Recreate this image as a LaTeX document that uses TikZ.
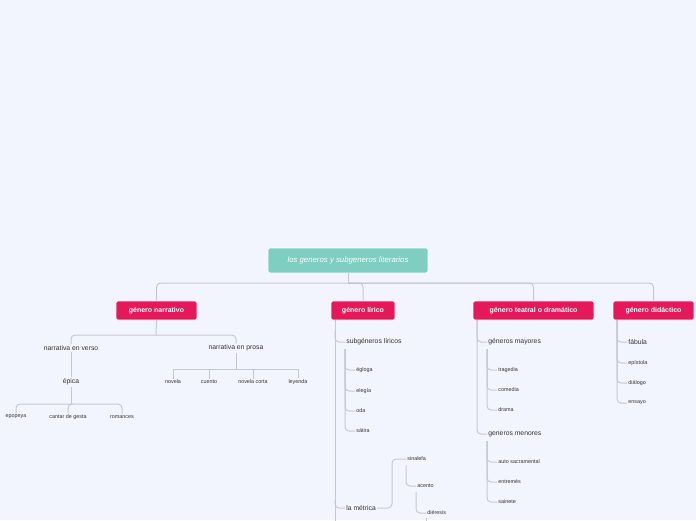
\documentclass[tikz,border=0pt]{standalone}
\usepackage{fontspec}
\setmainfont{Liberation Sans}
\definecolor{bg}{HTML}{F3F5FE}
\definecolor{teal}{HTML}{7ECEC1}
\definecolor{pink}{HTML}{E5185A}
\definecolor{ln}{HTML}{C5C8D4}
\definecolor{txt}{HTML}{333333}
\tikzset{every picture/.style={line width=0.75pt}}
\tikzset{
  rootbox/.style={fill=teal,draw=white,rounded corners=2pt,minimum width=160,minimum height=25,text=white,font=\fontsize{7.8}{9}\selectfont\itshape},
  mainbox/.style={fill=pink,draw=white,rounded corners=2pt,minimum height=19,inner xsep=2,text=white,font=\fontsize{7}{8}\selectfont\bfseries},
  midtxt/.style={text=txt,inner sep=1pt,font=\fontsize{6.8}{8}\selectfont},
  leaf/.style={text=txt,inner sep=1pt,font=\fontsize{5.4}{6}\selectfont},
  conn/.style={draw=ln,line width=1pt,rounded corners=4pt},
}
\begin{document}
\begin{tikzpicture}[x=1pt,y=-1pt]
\fill[bg] (0,0) rectangle (696,520);
\useasboundingbox (0,0) rectangle (696,520);

% root and main genres
\node[rootbox] (root) at (348,260.5) {los generos y subgeneros literarios};
\node[mainbox,minimum width=81] (nar) at (156.5,310.5) {género narrativo};
\node[mainbox,minimum width=64] (lir) at (363,310.5) {género lírico};
\node[mainbox,minimum width=121] (tea) at (533.5,310.5) {género teatral o dramático};
\node[mainbox,minimum width=81] (did) at (653.5,310.5) {género didáctico};
\draw[conn] (root.south) -- (348,283);
\foreach \n in {nar,lir,tea,did}
  \draw[conn] (348,283) -| (\n.north);

% narrativo
\node[midtxt] (verso) at (71,348) {narrativa en verso};
\node[midtxt] (prosa) at (236,348) {narrativa en prosa};
\node[midtxt] (epica) at (71,382) {épica};
\foreach \n/\x/\t in {epopeya/16/epopeya,cantar/68/cantar de gesta,romances/122/romances}
  \node[leaf] (\n) at (\x,417) {\t};
\foreach \n/\x/\t in {novela/173/novela,cuento/209/cuento,corta/253/novela corta,leyenda/298/leyenda}
  \node[leaf] (\n) at (\x,382) {\t};
\draw[conn] (nar.south) -- (156,335);
\foreach \n in {verso,prosa} \draw[conn] (156,335) -| (\n.north);
\draw[conn] (verso.south) -- (epica.north);
\draw[conn] (epica.south) -- (71,404);
\foreach \n in {epopeya,cantar,romances} \draw[conn] (71,404) -| (\n.north);
\draw[conn] (prosa.south) -- (236,369);
\foreach \n in {novela,cuento,corta,leyenda} \draw[conn,rounded corners=0] (236,369) -| (\n.north);

% lirico
\node[midtxt,anchor=west] (subl) at (345,342) {subgéneros líricos};
\node[midtxt,anchor=west] (metrica) at (345,508) {la métrica};
\foreach \n/\y/\t in {egloga/370/égloga,elegia/391/elegía,oda/411/oda,satira/431/sátira}
  \node[leaf,anchor=west] (\n) at (355,\y) {\t};
\node[leaf,anchor=west] (sinalefa) at (406,459) {sinalefa};
\node[leaf,anchor=west] (acento) at (416,486) {acento};
\node[leaf,anchor=west] (dieresis) at (426,513) {diéresis};
\draw[conn] (335,320) -- (335,521);
\draw[conn] (335,330) |- (subl.west);
\draw[conn] (335,500) |- (metrica.west);
\foreach \n in {egloga,elegia,oda,satira} \draw[conn] (345,349) |- (\n.west);
\draw[conn] (metrica.east) -- (392,508) |- (sinalefa.west);
\draw[conn] (406,465) |- (acento.west);
\draw[conn] (416,492) |- (dieresis.west);
\draw[conn] (426,518) -- (426,521);

% teatral
\node[midtxt,anchor=west] (mayores) at (487,342) {géneros mayores};
\node[midtxt,anchor=west] (menores) at (487,434) {generos menores};
\foreach \n/\y/\t in {tragedia/370/tragedia,comedia/390/comedia,drama/410/drama}
  \node[leaf,anchor=west] (\n) at (497,\y) {\t};
\foreach \n/\y/\t in {auto/462/auto sacramental,entremes/482/entremés,sainete/502/sainete}
  \node[leaf,anchor=west] (\n) at (497,\y) {\t};
\foreach \n in {mayores,menores} \draw[conn] (477,320) |- (\n.west);
\foreach \n in {tragedia,comedia,drama} \draw[conn] (487,349) |- (\n.west);
\foreach \n in {auto,entremes,sainete} \draw[conn] (487,441) |- (\n.west);

% didactico
\node[midtxt,anchor=west] (fabula) at (627,342) {fábula};
\foreach \n/\y/\t in {epistola/363/epístola,dialogo/383/diálogo,ensayo/403/ensayo}
  \node[leaf,anchor=west] (\n) at (627,\y) {\t};
\foreach \n in {fabula,epistola,dialogo,ensayo} \draw[conn] (617,320) |- (\n.west);
\end{tikzpicture}
\end{document}
